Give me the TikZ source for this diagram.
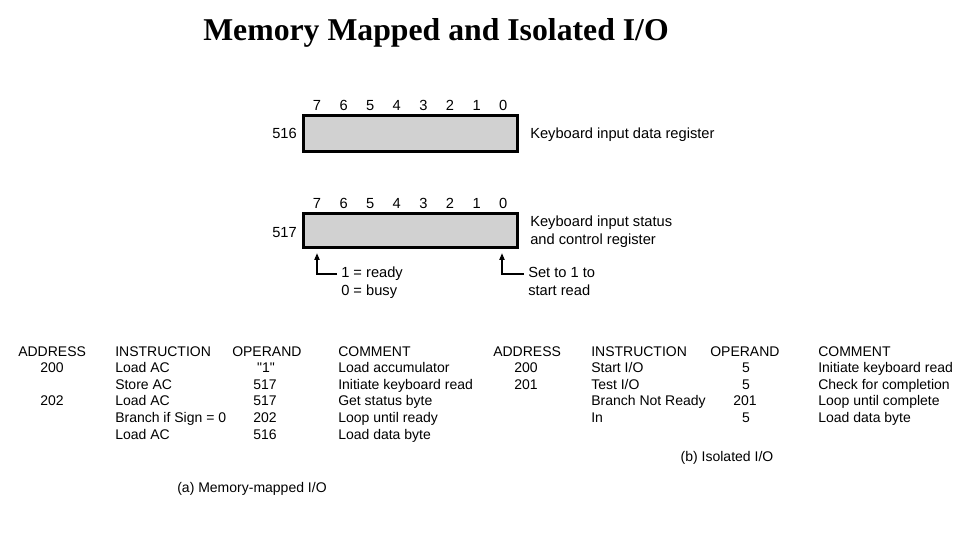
\documentclass[tikz,border=0pt]{standalone}
\usepackage{fontspec}
\setmainfont{Liberation Sans}
\newfontfamily\titlefont{Liberation Serif}
\usetikzlibrary{arrows.meta}
\begin{document}
\begin{tikzpicture}[x=0.75pt,y=-0.75pt,
  txt/.style={inner sep=0pt,font=\fontsize{10.5pt}{12pt}\selectfont},
  rtxt/.style={inner sep=0pt,font=\fontsize{11pt}{12pt}\selectfont},
  lt/.style={txt,anchor=base west},
  ct/.style={txt,anchor=base},
  rlt/.style={rtxt,anchor=base west},
  rct/.style={rtxt,anchor=base},
  reg/.style={draw=black,line width=2.2pt,fill=black!18},
  pointer/.style={line width=0.8pt,-{Triangle[length=5pt,width=4pt]}}]
\useasboundingbox[fill=white] (0,0) rectangle (960,536);
% title
\node[inner sep=0pt,anchor=base,font=\titlefont\bfseries\fontsize{23.8pt}{27pt}\selectfont] (title) at (436,40) {Memory Mapped and Isolated I/O};
% registers
\node[reg,minimum width=160.5pt,minimum height=27pt,inner sep=0pt] (r516) at (410.5,133.5) {};
\node[reg,minimum width=160.5pt,minimum height=26pt,inner sep=0pt] (r517) at (410.5,230.5) {};
\foreach \b [count=\i from 0] in {7,6,5,4,3,2,1,0}{
  \node[rct] (ta\b) at (317+26.6*\i,110) {\b};
  \node[rct] (tb\b) at (317+26.6*\i,208) {\b};
}
\node[rtxt,anchor=base east] (n516) at (297,138) {516};
\node[rtxt,anchor=base east] (n517) at (297,237) {517};
\node[rlt] (d516) at (530,138) {Keyboard input data register};
\node[rlt] (d517a) at (530,226) {Keyboard input status};
\node[rlt] (d517b) at (530,244) {and control register};
% pointers
\coordinate (c7) at (317,274);
\coordinate (c0) at (502,274);
\node[rlt] (rdy) at (341,277) {1 = ready};
\node[rlt] (bsy) at (341,295) {0 = busy};
\node[rlt] (set) at (528,277) {Set to 1 to};
\node[rlt] (srd) at (528,295) {start read};
\draw[pointer] ([xshift=-3pt]rdy.west |- c7) -- (c7) -- ([yshift=-3pt]c7 |- r517.south);
\draw[pointer] ([xshift=-3pt]set.west |- c0) -- (c0) -- ([yshift=-3pt]c0 |- r517.south);
% table (a)
\node[lt] (ha1) at (18,356) {ADDRESS};
\node[lt] (ha2) at (115,356) {INSTRUCTION};
\node[lt] (ha3) at (232,356) {OPERAND};
\node[lt] (ha4) at (338,356) {COMMENT};
\node[ct] (a1a) at (52,372.5) {200};
\node[lt] (a1b) at (115,372.5) {Load AC};
\node[ct] (a1c) at (266,372.5) {\textquotedbl 1\textquotedbl};
\node[lt] (a1d) at (338,372.5) {Load accumulator};
\node[lt] (a2b) at (115,389) {Store AC};
\node[ct] (a2c) at (265,389) {517};
\node[lt] (a2d) at (338,389) {Initiate keyboard read};
\node[ct] (a3a) at (52,405.5) {202};
\node[lt] (a3b) at (115,405.5) {Load AC};
\node[ct] (a3c) at (265,405.5) {517};
\node[lt] (a3d) at (338,405.5) {Get status byte};
\node[lt] (a4b) at (115,422) {Branch if Sign = 0};
\node[ct] (a4c) at (265,422) {202};
\node[lt] (a4d) at (338,422) {Loop until ready};
\node[lt] (a5b) at (115,439) {Load AC};
\node[ct] (a5c) at (265,439) {516};
\node[lt] (a5d) at (338,439) {Load data byte};
\node[ct] (capa) at (252,492) {(a) Memory-mapped I/O};
% table (b)
\node[lt] (hb1) at (493,356) {ADDRESS};
\node[lt] (hb2) at (591,356) {INSTRUCTION};
\node[lt] (hb3) at (710,356) {OPERAND};
\node[lt] (hb4) at (818,356) {COMMENT};
\node[ct] (b1a) at (526,372.5) {200};
\node[lt] (b1b) at (591,372.5) {Start I/O};
\node[ct] (b1c) at (746,372.5) {5};
\node[lt] (b1d) at (818,372.5) {Initiate keyboard read};
\node[ct] (b2a) at (526,389) {201};
\node[lt] (b2b) at (591,389) {Test I/O};
\node[ct] (b2c) at (746,389) {5};
\node[lt] (b2d) at (818,389) {Check for completion};
\node[lt] (b3b) at (591,405.5) {Branch Not Ready};
\node[ct] (b3c) at (745,405.5) {201};
\node[lt] (b3d) at (818,405.5) {Loop until complete};
\node[lt] (b4b) at (591,422) {In};
\node[ct] (b4c) at (746,422) {5};
\node[lt] (b4d) at (818,422) {Load data byte};
\node[ct] (capb) at (727,461) {(b) Isolated I/O};
\end{tikzpicture}
\end{document}
